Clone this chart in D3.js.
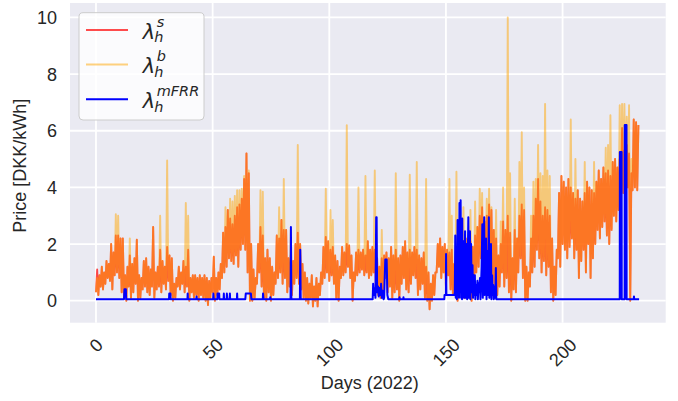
<!DOCTYPE html>
<html><head><meta charset="utf-8">
<script src="https://cdn.jsdelivr.net/npm/d3@7"></script>
<style>
body{margin:0;background:#fff}
svg{display:block}
.tick text,.lab{font-family:"Liberation Sans",Arial,sans-serif;fill:#262626}
</style>
</head><body>
<svg id="chart" width="678" height="401"></svg>
<script>
// Daily low / high of the sell price (DKK/kWh), one pair per day, day 0..232
const sellLow = [
0.3,0.2,0.5,0.4,0.6,0.8,0.7,0.4,0.9,1.0, 0.8,0.3,0.1,0.0,0.5,0.1,0.3,0.6,0.0,0.1,
0.4,0.5,0.3,0.2,0.5,0.1,0.4,0.5,0.3,0.6, 0.4,0.7,0.2,0.0,0.1,0.5,0.4,0.6,0.3,0.5,
0.0,0.3,0.1,0.2,0.0,0.2,0.1,0.0,-0.15,0.1, 0.3,0.0,0.2,0.4,0.8,1.0,1.2,1.5,1.4,1.3,
1.6,1.2,1.8,2.0,1.8,1.0,0.0,0.0,0.1,0.6, 1.0,0.5,0.1,0.0,0.3,0.0,0.2,0.6,0.8,1.0,
0.6,0.8,0.3,0.5,0.2,0.6,0.8,0.6,0.4,0.1, 0.0,-0.1,0.1,-0.2,0.0,-0.2,0.2,0.6,0.8,1.0,
0.7,0.9,0.6,0.1,0.0,0.8,0.9,1.0,1.2,0.8, 0.0,0.7,0.9,1.0,1.1,0.9,1.0,0.8,0.9,1.0,
0.4,0.2,0.1,0.4,0.8,0.3,0.5,0.1,0.3,0.4, 0.0,0.6,0.8,0.4,0.3,0.6,0.9,0.8,0.2,0.4,
0.6,0.1,0.0,-0.3,0.0,0.2,1.0,1.2,0.8,1.0, 0.5,0.9,0.4,0.2,0.3,0.0,0.3,0.6,0.1,0.3,
0.5,0.0,0.2,1.0,1.2,1.5,0.8,1.0,1.4,1.2, 0.6,0.4,0.2,0.5,1.0,0.5,0.8,0.3,0.0,0.4,
0.3,1.0,1.5,0.8,0.0,0.0,0.5,1.0,1.2,1.8, 1.5,1.0,1.4,0.9,1.2,0.3,0.0,0.2,1.5,1.2,
2.0,1.8,1.5,1.9,2.2,1.5,1.8,0.8,1.4,1.8, 1.0,2.0,0.8,1.5,2.0,2.5,2.2,2.6,2.8,2.3,
2.0,2.5,3.0,2.8,3.2,3.5,3.8,3.6,4.0,0.0, 3.9,4.0,3.9
];
const sellHigh = [
1.1,0.9,1.2,1.0,1.4,1.3,2.0,1.7,2.3,2.3, 2.2,2.2,0.9,1.2,1.6,1.3,1.5,2.15,0.9,0.8,
1.4,1.5,1.2,1.1,2.6,1.0,1.2,1.8,1.4,1.2, 1.9,1.6,1.5,0.6,0.8,1.2,1.0,1.4,1.2,1.8,
0.8,0.9,0.9,0.8,0.9,0.8,0.9,0.8,0.7,0.8, 1.55,0.8,1.0,1.3,2.4,2.6,3.2,2.9,2.7,3.0,
3.3,3.4,3.6,4.3,5.2,4.5,2.0,1.1,0.8,2.0, 2.6,2.3,1.5,1.8,1.5,1.2,1.0,2.3,2.2,2.85,
2.5,2.5,1.5,1.6,1.4,2.0,2.4,2.0,1.3,1.0, 0.8,0.6,0.9,0.5,0.8,0.6,1.0,1.9,2.25,2.1,
1.8,1.9,1.6,1.4,1.2,1.9,1.7,2.0,1.95,1.6, 1.0,1.7,1.8,1.7,1.8,1.6,2.1,1.8,1.9,1.8,
1.5,1.2,1.5,1.6,1.7,1.5,1.9,1.6,1.8,1.5, 1.6,1.9,2.1,1.7,1.8,1.7,1.9,1.8,1.6,1.5,
1.7,1.2,1.0,0.6,0.9,1.0,2.0,2.2,1.9,2.0, 1.8,1.7,1.8,1.3,1.9,1.5,1.7,2.0,2.2,1.8,
2.1,1.9,2.3,2.6,3.0,3.3,2.8,3.0,3.4,3.2, 2.5,2.2,1.6,2.0,2.8,2.5,3.0,2.4,1.5,2.5,
2.2,3.0,3.4,3.2,1.2,1.0,2.2,3.0,3.6,4.3, 3.5,3.0,3.3,3.2,3.0,2.2,1.2,1.8,3.8,4.4,
4.2,4.0,4.3,4.0,3.8,3.6,3.9,3.6,3.5,3.8, 4.2,4.0,3.9,3.8,4.2,4.6,4.3,4.7,4.5,4.6,
4.4,4.9,5.0,4.7,5.0,6.1,5.3,5.5,5.2,4.5, 6.4,6.3,6.2
];
// Buy price differs from sell price on these days (daily peak)
const buyPeakDays = [0,8,9,14,27,30,38,39,55,57,58,59,60,61,62,63,65,70,71,78,80,83,86,98,100,101,107,112,115,119,122,128,134,137,141,
151,152,154,157,160,162,164,165,167,168,169,171,173,174,176,177,179,181,182,183,186,187,188,189,190,191,192,193,194,
203,205,209,213,218,219,220,224,225,226,227,228,229];
const buyPeakValues = [0.8,3.05,3.0,2.2,3.0,4.95,3.45,3.0,3.3,3.6,3.5,3.7,3.9,3.9,3.95,4.4,4.6,3.9,3.85,3.3,4.3,2.5,5.5,3.95,3.2,2.85,6.2,4.0,4.4,4.6,2.5,4.5,4.45,4.9,4.3,
4.3,3.0,4.55,3.3,3.2,3.5,3.95,3.8,3.6,3.95,3.3,3.2,2.8,4.0,10.0,4.5,3.6,4.9,5.95,4.0,3.0,4.2,4.3,5.5,4.5,4.4,6.95,4.6,4.4,
6.4,5.0,4.9,4.9,5.4,5.5,6.55,6.9,6.95,6.95,6.5,6.9,5.0];
// mFRR price, [day, value]
const mfrrPoints = [
[0,0.05],[12.0,0.05],[12.2,0.4],[12.8,0.4],[12.95,0.05],
[31.3,0.05],[31.4,0.25],[31.9,0.25],[32.0,0.05],
[39.2,0.05],[39.3,0.25],[39.4,0.05],[43.0,0.05],[43.1,0.15],[43.2,0.05],
[50.2,0.05],[50.3,0.25],[50.5,0.05],[52.0,0.05],[52.1,0.25],[52.8,0.25],[52.9,0.05],
[54.7,0.05],[54.8,0.25],[54.9,0.05],[56.0,0.05],[56.1,0.25],[56.3,0.05],
[57.3,0.05],[57.4,0.25],[57.5,0.05],[60.4,0.05],[60.5,0.25],[60.6,0.05],
[64.0,0.05],[64.2,0.25],[66.4,0.25],[66.6,0.05],[71.5,0.05],[71.6,0.25],[71.8,0.05],
[74.6,0.05],[74.7,0.12],[74.8,0.05],
[83.4,0.05],[83.55,2.6],[83.75,0.05],[87.4,0.05],[87.55,1.8],[87.75,0.05],
[118.6,0.05],[118.8,0.6],[119.1,0.2],[119.5,0.45],[119.8,0.1],[120.1,2.95],[120.3,2.95],[120.5,0.3],
[120.9,0.5],[121.2,0.15],[121.6,0.45],[122.0,0.2],[122.2,0.6],[122.5,0.1],[122.8,0.35],[123.3,0.05],
[123.5,0.1],[124.0,1.45],[124.6,1.45],[124.9,0.2],[125.3,0.05],
[130.0,0.05],[130.1,0.12],[130.2,0.05],[131.7,0.05],[131.8,0.12],[131.9,0.05],
[149.3,0.05],[149.4,0.2],[150.0,0.2],[150.05,1.65],[150.2,0.2],[153.6,0.2],
[153.8,0.3],[154.0,2.3],[154.2,0.1],[154.5,1.6],[154.7,0.05],[155.0,2.85],[155.2,0.2],[155.4,1.9],
[155.6,0.1],[155.8,3.45],[156.0,0.3],[156.3,3.55],[156.5,0.1],[156.7,1.2],[156.9,0.05],[157.0,2.9],
[157.2,0.2],[157.5,2.1],[157.7,0.1],[158.0,1.0],[158.2,2.45],[158.4,0.1],[158.6,0.8],[158.9,2.0],
[159.1,0.05],[159.3,1.1],[159.6,2.95],[159.8,0.1],[160.0,1.2],[160.3,2.45],[160.5,0.05],[160.8,2.0],
[161.0,0.3],[161.4,1.25],[161.6,0.1],[161.9,0.9],[162.1,0.2],[162.4,0.9],[162.6,0.05],[162.9,0.55],
[163.1,0.2],[163.5,0.7],[163.7,0.05],[164.0,0.6],[164.2,0.3],[164.6,0.8],[164.8,0.05],[165.0,0.5],
[165.3,1.2],[165.6,2.7],[165.8,0.1],[166.1,1.5],[166.4,2.95],[166.6,0.2],[166.9,1.0],[167.2,2.2],
[167.4,0.05],[167.7,1.75],[167.9,0.2],[168.2,1.3],[168.4,2.95],[168.6,0.1],[168.9,1.5],[169.3,2.0],
[169.5,0.05],[169.8,0.9],[170.0,0.2],[170.3,0.55],[170.5,0.05],[170.9,0.5],[171.2,0.1],[171.4,1.15],
[171.6,0.05],[172.4,0.05],
[224.5,0.05],[224.55,5.25],[225.3,5.25],[225.35,0.05],[226.6,0.05],[226.65,6.2],[227.4,6.2],[227.45,0.05],
[230.5,0.05],[230.6,0.15],[230.7,0.05],[232.8,0.05]
];
const xTicks = [0,50,100,150,200];
const yTicks = [0,2,4,6,8,10];
const xLabel = "Days (2022)";
const yLabel = "Price [DKK/kWh]";
const legendItems = [
  {sup:"s", color:"rgba(255,0,0,0.7)"},
  {sup:"b", color:"rgba(255,165,0,0.5)"},
  {sup:"mFRR", color:"#0000ff"}
];

const svg = d3.select("#chart");
const L = 70, R = 665.7, T = 3, B = 322.7;
const x = d3.scaleLinear().domain([-11.14, 244.2]).range([L, R]);
const y = d3.scaleLinear().domain([-0.777, 10.51]).range([B, T]);

svg.append("rect").attr("x", L).attr("y", T).attr("width", R - L).attr("height", B - T).attr("fill", "#eaeaf2");
svg.append("defs").append("clipPath").attr("id", "clip").append("rect")
  .attr("x", L).attr("y", T).attr("width", R - L).attr("height", B - T);

// grid
svg.append("g").selectAll("line").data(yTicks).join("line")
  .attr("x1", L).attr("x2", R).attr("y1", d => y(d)).attr("y2", d => y(d))
  .attr("stroke", "#fff").attr("stroke-width", 1.8);
svg.append("g").selectAll("line").data(xTicks).join("line")
  .attr("y1", T).attr("y2", B).attr("x1", d => x(d)).attr("x2", d => x(d))
  .attr("stroke", "#fff").attr("stroke-width", 1.8);

// series
const sellPts = [], buyPts = [];
sellLow.forEach((lo, i) => {
  sellPts.push([i, lo], [i + 0.5, sellHigh[i]]);
  const k = buyPeakDays.indexOf(i);
  buyPts.push([i, lo], [i + 0.5, k >= 0 ? buyPeakValues[k] : sellHigh[i]]);
});
const line = d3.line().x(d => x(d[0])).y(d => y(d[1]));
const plot = svg.append("g").attr("clip-path", "url(#clip)");
plot.append("path").attr("d", line(sellPts)).attr("fill", "none")
  .attr("stroke", "#ff0000").attr("stroke-opacity", 0.7).attr("stroke-width", 1.9).attr("stroke-linejoin", "round");
plot.append("path").attr("d", line(buyPts)).attr("fill", "none")
  .attr("stroke", "#ffa500").attr("stroke-opacity", 0.5).attr("stroke-width", 1.9).attr("stroke-linejoin", "round");
plot.append("path").attr("d", line(mfrrPoints)).attr("fill", "none")
  .attr("stroke", "#0000ff").attr("stroke-width", 2).attr("stroke-linejoin", "round");

// axes
const yAxis = svg.append("g").attr("class", "tick");
yAxis.selectAll("text").data(yTicks).join("text")
  .attr("x", 57).attr("y", d => y(d)).attr("dy", "0.36em").attr("text-anchor", "end")
  .attr("font-size", 18).text(d => d);
const xAxis = svg.append("g").attr("class", "tick");
xAxis.selectAll("text").data(xTicks).join("text")
  .attr("font-size", 18).attr("text-anchor", "middle").attr("dy", "0.36em")
  .text(d => d)
  .each(function (d) {
    const w = this.getComputedTextLength();
    const h = 13;
    const cy = 337 + (w + h) / Math.SQRT2 / 2;
    d3.select(this).attr("transform", `translate(${x(d)},${cy}) rotate(-45)`);
  });
svg.append("text").attr("class", "lab").attr("x", (L + R) / 2 + 2).attr("y", 389)
  .attr("text-anchor", "middle").attr("font-size", 18).text(xLabel);
svg.append("text").attr("class", "lab").attr("transform", `translate(26,${(T + B) / 2 + 3}) rotate(-90)`)
  .attr("text-anchor", "middle").attr("font-size", 18).text(yLabel);

// legend
const lg = svg.append("g");
lg.append("rect").attr("x", 79).attr("y", 12.7).attr("width", 125).attr("height", 107.3)
  .attr("rx", 4).attr("fill", "#ffffff").attr("fill-opacity", 0.8).attr("stroke", "#cccccc").attr("stroke-width", 1);
legendItems.forEach((it, i) => {
  const cy = 30 + i * 34.6;
  lg.append("line").attr("x1", 86).attr("x2", 128).attr("y1", cy).attr("y2", cy)
    .attr("stroke", it.color).attr("stroke-width", 2);
  const base = cy + 8.5;
  const f = "DejaVu Sans";
  const lam = lg.append("text").attr("x", 142.7).attr("y", base).attr("font-family", f)
    .attr("font-style", "italic").attr("font-size", 21).attr("fill", "#262626").text("λ");
  const lw = lam.node().getComputedTextLength();
  lg.append("text").attr("x", 142.7 + lw - 1).attr("y", base + 3.8).attr("font-family", f)
    .attr("font-style", "italic").attr("font-size", 14.5).attr("fill", "#262626").text("h");
  lg.append("text").attr("x", 142.7 + lw + 1.5).attr("y", base - 12).attr("font-family", f)
    .attr("font-style", "italic").attr("font-size", 14.5).attr("fill", "#262626").text(it.sup);
});
</script>
</body></html>
